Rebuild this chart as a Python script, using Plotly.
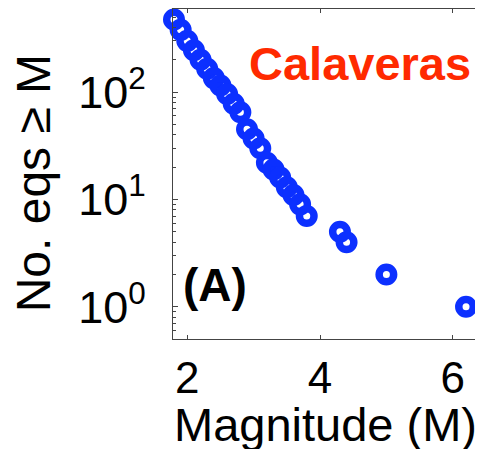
import plotly.graph_objects as go

# Cumulative number of earthquakes with magnitude >= M (Calaveras)
magnitudes = [1.8, 1.9, 2.0, 2.1, 2.2, 2.3, 2.4, 2.5, 2.6, 2.7, 2.8, 2.9, 3.0,
              3.1, 3.2, 3.3, 3.4, 3.5, 3.6, 3.7, 3.8, 4.3, 4.4, 5.0, 6.2]
counts = [475, 380, 300, 245, 200, 165, 135, 115, 96, 78, 65, 45, 37,
          30, 22, 19, 16, 13, 11, 9, 7, 5, 4, 2, 1]

x_tick_vals = [2, 4, 6]
x_tick_text = ["2", "4", "6"]
y_tick_vals = [1, 10, 100]
y_tick_text = ["10<sup>0</sup>", "10<sup>1</sup>", "10<sup>2</sup>"]

FONT = "Liberation Sans, Arial, Helvetica, sans-serif"
BLUE = "#0c30ff"
RED = "#ff2a00"
AXIS = "#444444"

fig = go.Figure()
fig.add_trace(go.Scatter(
    x=magnitudes, y=counts, mode="markers",
    marker=dict(symbol="circle-open", size=14.5, color=BLUE,
                line=dict(width=7.5, color=BLUE)),
    cliponaxis=False, showlegend=False,
))

fig.add_annotation(text="<b>Calaveras</b>", xref="paper", yref="paper",
                   x=0.232, y=0.834, xanchor="left", yanchor="middle",
                   showarrow=False, font=dict(family=FONT, size=47, color=RED))
fig.add_annotation(text="<b>(A)</b>", xref="paper", yref="paper",
                   x=0.132, y=0.164, xanchor="center", yanchor="middle",
                   showarrow=False, font=dict(family=FONT, size=46, color="black"))
# axis titles as annotations (positioned like the reference)
fig.add_annotation(text="Magnitude (M)", xref="paper", yref="paper",
                   x=0.478, y=-0.258, xanchor="center", yanchor="middle",
                   showarrow=False, font=dict(family=FONT, size=47, color="black"))
fig.add_annotation(text="No. eqs ≥ M", xref="paper", yref="paper",
                   x=-0.440, y=0.472, xanchor="center", yanchor="middle",
                   textangle=-90, showarrow=False,
                   font=dict(family=FONT, size=48, color="black"))

# page has an 8px body margin: compensate so plot lands at the reference position
fig.update_layout(
    width=483, height=449,
    margin=dict(l=165, r=0, t=0.5, b=118, autoexpand=False),
    paper_bgcolor="white", plot_bgcolor="white",
    font=dict(family=FONT, size=45, color="black"),
    xaxis=dict(
        range=[1.785, 6.576], tickvals=x_tick_vals, ticktext=x_tick_text,
        ticks="inside", ticklen=4, tickcolor=AXIS, showgrid=False, zeroline=False,
        showline=True, linecolor=AXIS, linewidth=1.2, mirror="ticks",
        automargin=False, tickfont=dict(size=44),
    ),
    yaxis=dict(
        type="log", range=[-0.300, 2.774], tickvals=y_tick_vals, ticktext=y_tick_text,
        ticks="inside", ticklen=5, tickcolor=AXIS, showgrid=False, zeroline=False,
        showline=True, linecolor=AXIS, linewidth=1.2, mirror=False,
        automargin=False,
        minor=dict(ticks="inside", ticklen=3, tickcolor=AXIS, showgrid=False,
                   tickvals=[v * m for v in [0.1, 1, 10, 100] for m in range(2, 10)]),
        ticklabelstandoff=17, tickfont=dict(size=45),
    ),
)

fig.write_html("out.html")
